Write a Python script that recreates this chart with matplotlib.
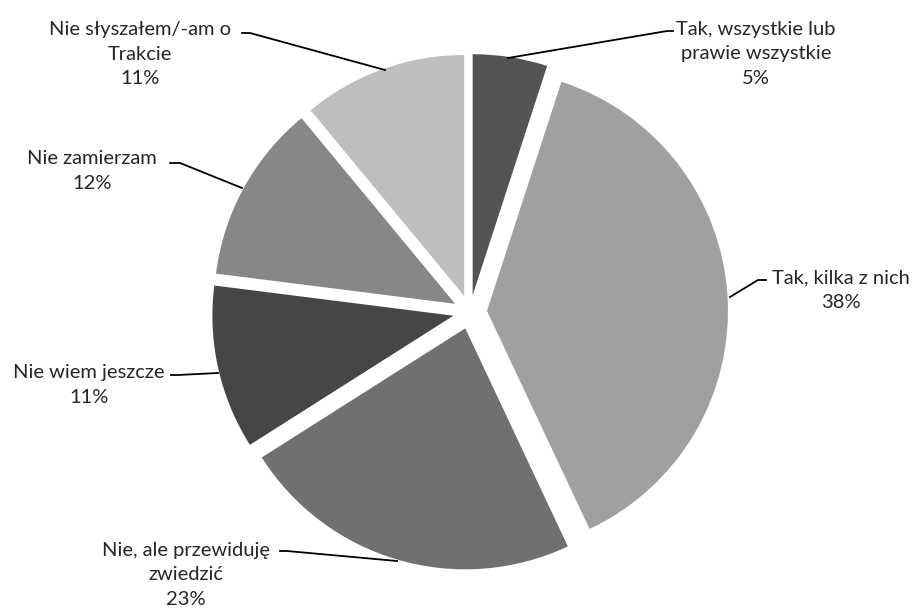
import matplotlib
matplotlib.use("Agg")
import matplotlib.pyplot as plt

labels = ["Tak, wszystkie lub\nprawie wszystkie", "Tak, kilka z nich",
          "Nie, ale przewiduję\nzwiedzić", "Nie wiem jeszcze",
          "Nie zamierzam", "Nie słyszałem/-am o\nTrakcie"]
values = [5, 38, 23, 11, 12, 11]
colors = ["#545454", "#a0a0a0", "#707070", "#464646", "#878787", "#bebebe"]

# label text centres and leader lines (pixel coordinates, y from top)
text_pos = [(756, 54), (841, 290), (186, 575), (89, 385), (92, 171), (140, 54)]
leaders = [[(508, 58), (667, 31), (673, 31)],
           [(730, 297), (758, 280), (766, 280)],
           [(397, 561), (287, 551), (280, 551)],
           [(218, 373), (178, 375), (171, 375)],
           [(242, 188), (180, 163), (170, 163)],
           [(385, 70), (250, 33), (242, 33)]]

W, H = 917, 608
fig = plt.figure(figsize=(W / 100, H / 100), dpi=100)
ax = fig.add_axes([0, 0, 1, 1])

# explode is in data units here (pixels)
ax.pie(values, colors=colors, startangle=90, counterclock=False,
       center=(470, H - 312), radius=241, explode=[17] * len(values),
       wedgeprops=dict(linewidth=0))

# pie() resets the limits, so set them afterwards
ax.set_xlim(0, W)
ax.set_ylim(0, H)
ax.set_aspect("equal")
ax.axis("off")

for lab, v, (tx, ty), pts in zip(labels, values, text_pos, leaders):
    xs = [p[0] for p in pts]
    ys = [H - p[1] for p in pts]
    ax.plot(xs, ys, color="#000000", lw=1.3)
    ax.text(tx, H - ty, "%s\n%d%%" % (lab, v), ha="center", va="center",
            fontsize=14.5, family="Lato", color="#262626", linespacing=1.55)

fig.savefig("out.png", dpi=100, facecolor="white")
